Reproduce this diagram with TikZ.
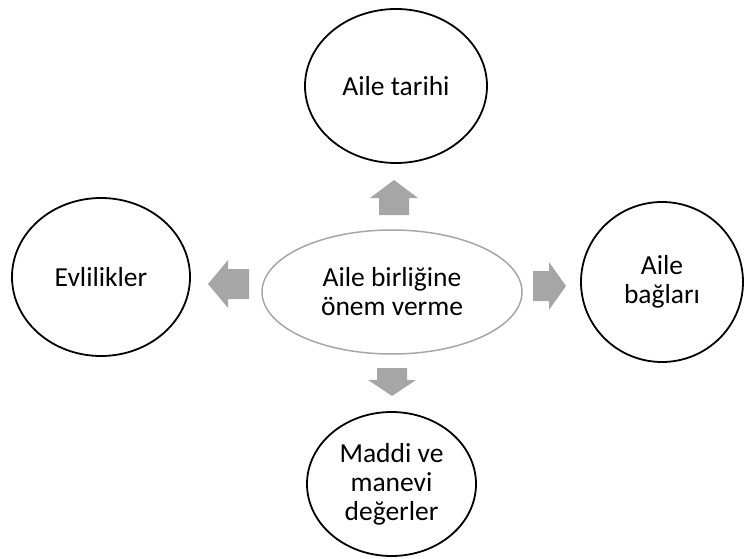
\documentclass[tikz,border=0pt]{standalone}
\usepackage{fontspec}
\setmainfont{Carlito}
\usepackage{tikz}
\usetikzlibrary{shapes.geometric}
\definecolor{arrowgray}{RGB}{166,166,166}
\newcommand{\bubblefont}{\fontsize{27.5}{29}\selectfont}
\tikzset{bubble/.style = {ellipse, draw=black, line width=1.8pt, inner sep=0,
                          align=center, font=\bubblefont}}
\tikzset{hub/.style = {bubble, draw=arrowgray, line width=1.5pt}}

\begin{document}
\begin{tikzpicture}[x=1pt, y=1pt]
    \useasboundingbox (0, 0) rectangle (744, 558);

    \node [hub, minimum width=260, minimum height=124] (center) at (392, 266)
          {Aile birliğine\\önem verme};
    \node [bubble, minimum width=182, minimum height=154] (tarih) at (396, 472)
          {Aile tarihi};
    \node [bubble, minimum width=178, minimum height=158] (evlilik) at (101, 281)
          {Evlilikler};
    \node [bubble, minimum width=162, minimum height=160] (bag) at (662, 276)
          {Aile\\bağları};
    \node [bubble, minimum width=169, minimum height=144] (deger) at (391.5, 74)
          {Maddi ve\\manevi\\değerler};

    \foreach \px/\py/\ang/\len/\tip in {394/343/90/17/18, 392/190/-90/12/16,
                                        249/274/180/21/20, 533/272/0/16/17} {
      \begin{scope}[shift={(\px, \py)}, rotate=\ang]
        \fill [arrowgray] (0, -15) -- (\len, -15) -- (\len, -24)
              -- ({\len+\tip}, 0) -- (\len, 24) -- (\len, 15) -- (0, 15) -- cycle;
      \end{scope}
    }
  \end{tikzpicture}
\end{document}
